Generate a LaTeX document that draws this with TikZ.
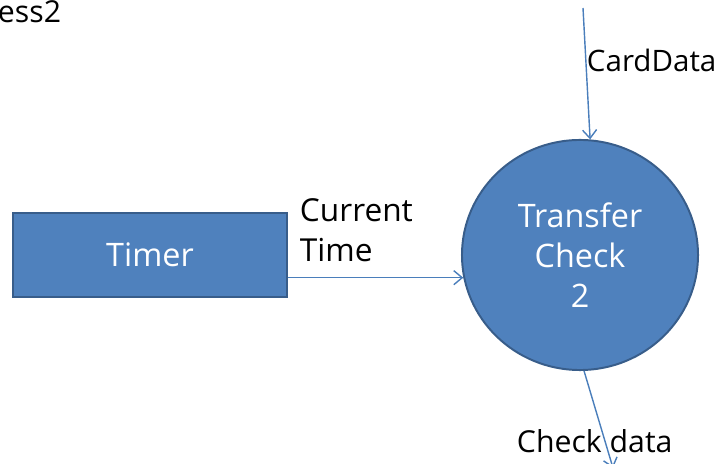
\documentclass[tikz,border=0pt]{standalone}
\usepackage{fontspec}
\setmainfont{Open Sans}
\usetikzlibrary{arrows.meta,shapes.geometric}
\definecolor{procfill}{HTML}{4F81BD}
\definecolor{procline}{HTML}{385D8A}
\definecolor{flowline}{HTML}{4A7EBB}
\begin{document}
\begin{tikzpicture}[x=0.025cm,y=-0.025cm,
    >={Straight Barb[length=6pt,width=10pt]},
    every node/.style={font=\fontsize{21.5}{28.5}\selectfont},
    proc/.style={draw=procline,line width=1.4pt,fill=procfill,text=white,align=center,inner sep=0pt,
      font=\fontsize{23}{28.5}\selectfont},
    flow/.style={flowline,line width=1pt}]
    \useasboundingbox (0,0) rectangle (718,464);
    \node[anchor=base west] (cut) at (-7,23) {ess2};
    \node[proc,rectangle,minimum width=6.85cm,minimum height=2.1cm] (timer) at (150,255) {Timer};
    \node[proc,ellipse,minimum width=5.9cm,minimum height=5.75cm] (check) at (580,255) {Transfer\\Check\\2};
    \coordinate (card in) at (583,8);
    \coordinate (data out) at (613,468);
    \draw[flow,->] (card in) -- (check.85);
    \draw[flow,->] (timer.east |- check.191) -- (check.191);
    \draw[flow,->] (check.272) -- (data out);
    \node[anchor=base west,font=\fontsize{21}{28.5}\selectfont] (card) at (582,72) {CardData};
    \node[anchor=base west,align=left,font=\fontsize{22.5}{29}\selectfont] (now) at (295,262) {Current\\Time};
    \node[anchor=base west] (data) at (512,453) {Check data};
\end{tikzpicture}
\end{document}
